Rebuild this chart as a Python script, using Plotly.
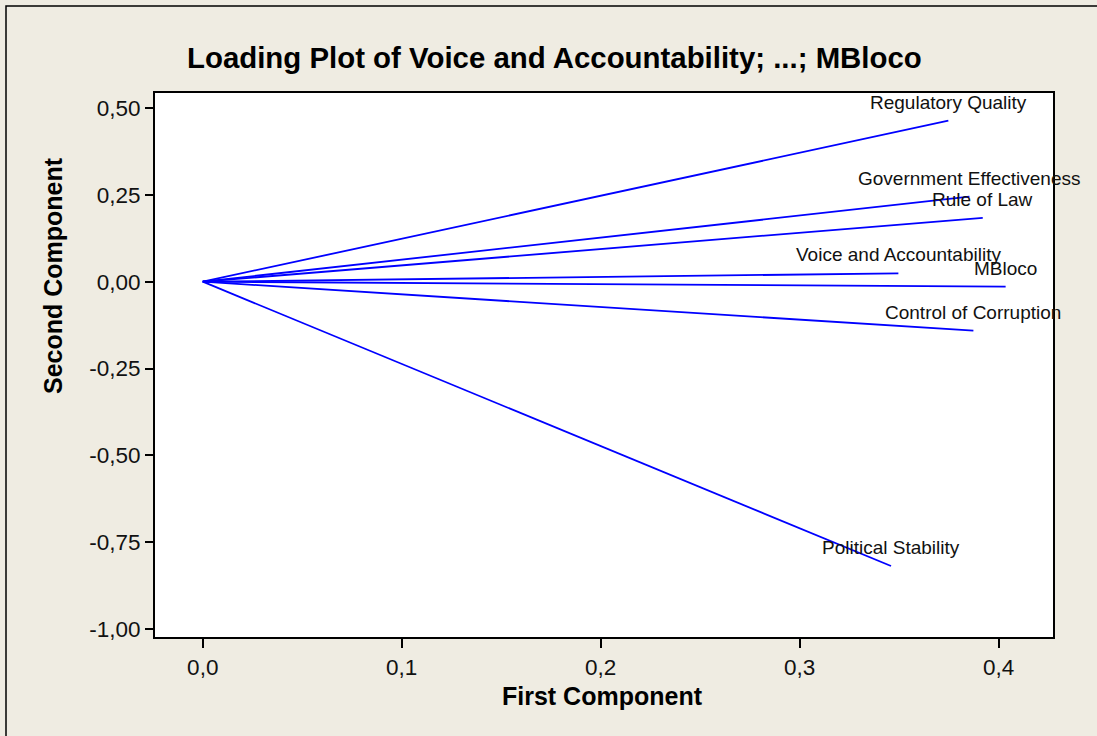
import plotly.graph_objects as go

# ---- data ----
variables = ["Regulatory Quality", "Government Effectiveness", "Rule of Law",
             "Voice and Accountability", "MBloco", "Control of Corruption",
             "Political Stability"]
first_component = [0.3747, 0.3853, 0.3920, 0.3496, 0.4035, 0.3873, 0.3459]
second_component = [0.4636, 0.2447, 0.1840, 0.0240, -0.0144, -0.1410, -0.8186]

x_tickvals = [0.0, 0.1, 0.2, 0.3, 0.4]
x_ticktext = ["0,0", "0,1", "0,2", "0,3", "0,4"]
y_tickvals = [0.50, 0.25, 0.00, -0.25, -0.50, -0.75, -1.00]
y_ticktext = ["0,50", "0,25", "0,00", "-0,25", "-0,50", "-0,75", "-1,00"]

title_text = "Loading Plot of Voice and Accountability; ...; MBloco"
x_title = "First Component"
y_title = "Second Component"

# ---- layout geometry (pixels) ----
W, H = 1097, 736
L, R, T, B = 155, 1053, 93, 637
PW, PH = R - L, B - T


def px(xp):
    return (xp - L) / PW


def py(yp):
    return (B - yp) / PH


BG = "#EFECE2"
FONT = "Liberation Sans"

fig = go.Figure()
for name, xv, yv in zip(variables, first_component, second_component):
    fig.add_trace(go.Scatter(x=[0, xv], y=[0, yv], mode="lines",
                             line=dict(color="#0000FF", width=1.8),
                             name=name, showlegend=False, hoverinfo="skip"))

annotations = []
for name, xv, yv in zip(variables, first_component, second_component):
    annotations.append(dict(x=xv, y=yv, xref="x", yref="y", text=name,
                            showarrow=False, xanchor="center", yanchor="bottom",
                            yshift=6,
                            font=dict(family=FONT, size=19, color="#111111")))

annotations.append(dict(x=px(554), y=py(76), xref="paper", yref="paper",
                        text="<b>" + title_text + "</b>", showarrow=False,
                        xanchor="center", yanchor="bottom",
                        font=dict(family=FONT, size=29.4, color="#000000")))
annotations.append(dict(x=px(602.5), y=py(712), xref="paper", yref="paper",
                        text="<b>" + x_title + "</b>", showarrow=False,
                        xanchor="center", yanchor="bottom",
                        font=dict(family=FONT, size=25, color="#000000")))
annotations.append(dict(x=px(53), y=py(276), xref="paper", yref="paper",
                        text="<b>" + y_title + "</b>", showarrow=False,
                        textangle=-90, xanchor="center", yanchor="middle",
                        font=dict(family=FONT, size=25, color="#000000")))

fig.update_layout(
    width=W, height=H,
    margin=dict(l=L, r=W - R, t=T, b=H - B, pad=0),
    paper_bgcolor=BG, plot_bgcolor="#FFFFFF",
    showlegend=False,
    annotations=annotations,
    shapes=[dict(type="rect", xref="paper", yref="paper",
                 x0=px(6), y0=py(6), x1=px(1100), y1=py(740),
                 line=dict(color="#000000", width=1.5), layer="below")],
)
fig.update_xaxes(range=[-0.024, 0.4273], tickvals=x_tickvals, ticktext=x_ticktext,
                 showgrid=False, zeroline=False, showline=True, mirror=True,
                 linecolor="#000000", linewidth=2, ticks="outside", ticklen=9,
                 tickwidth=1.5, tickcolor="#000000",
                 tickfont=dict(family=FONT, size=22.5, color="#111111"))
fig.update_yaxes(range=[-1.023, 0.5433], tickvals=y_tickvals, ticktext=y_ticktext,
                 showgrid=False, zeroline=False, showline=True, mirror=True,
                 linecolor="#000000", linewidth=2, ticks="outside", ticklen=8,
                 tickwidth=1.5, tickcolor="#000000",
                 tickfont=dict(family=FONT, size=22.5, color="#111111"))

fig.write_html(
    "out.html",
    config={"displayModeBar": False},
    post_script="document.body.style.margin='0';document.body.style.overflow='hidden';"
                "document.body.style.background='" + BG + "';",
)
